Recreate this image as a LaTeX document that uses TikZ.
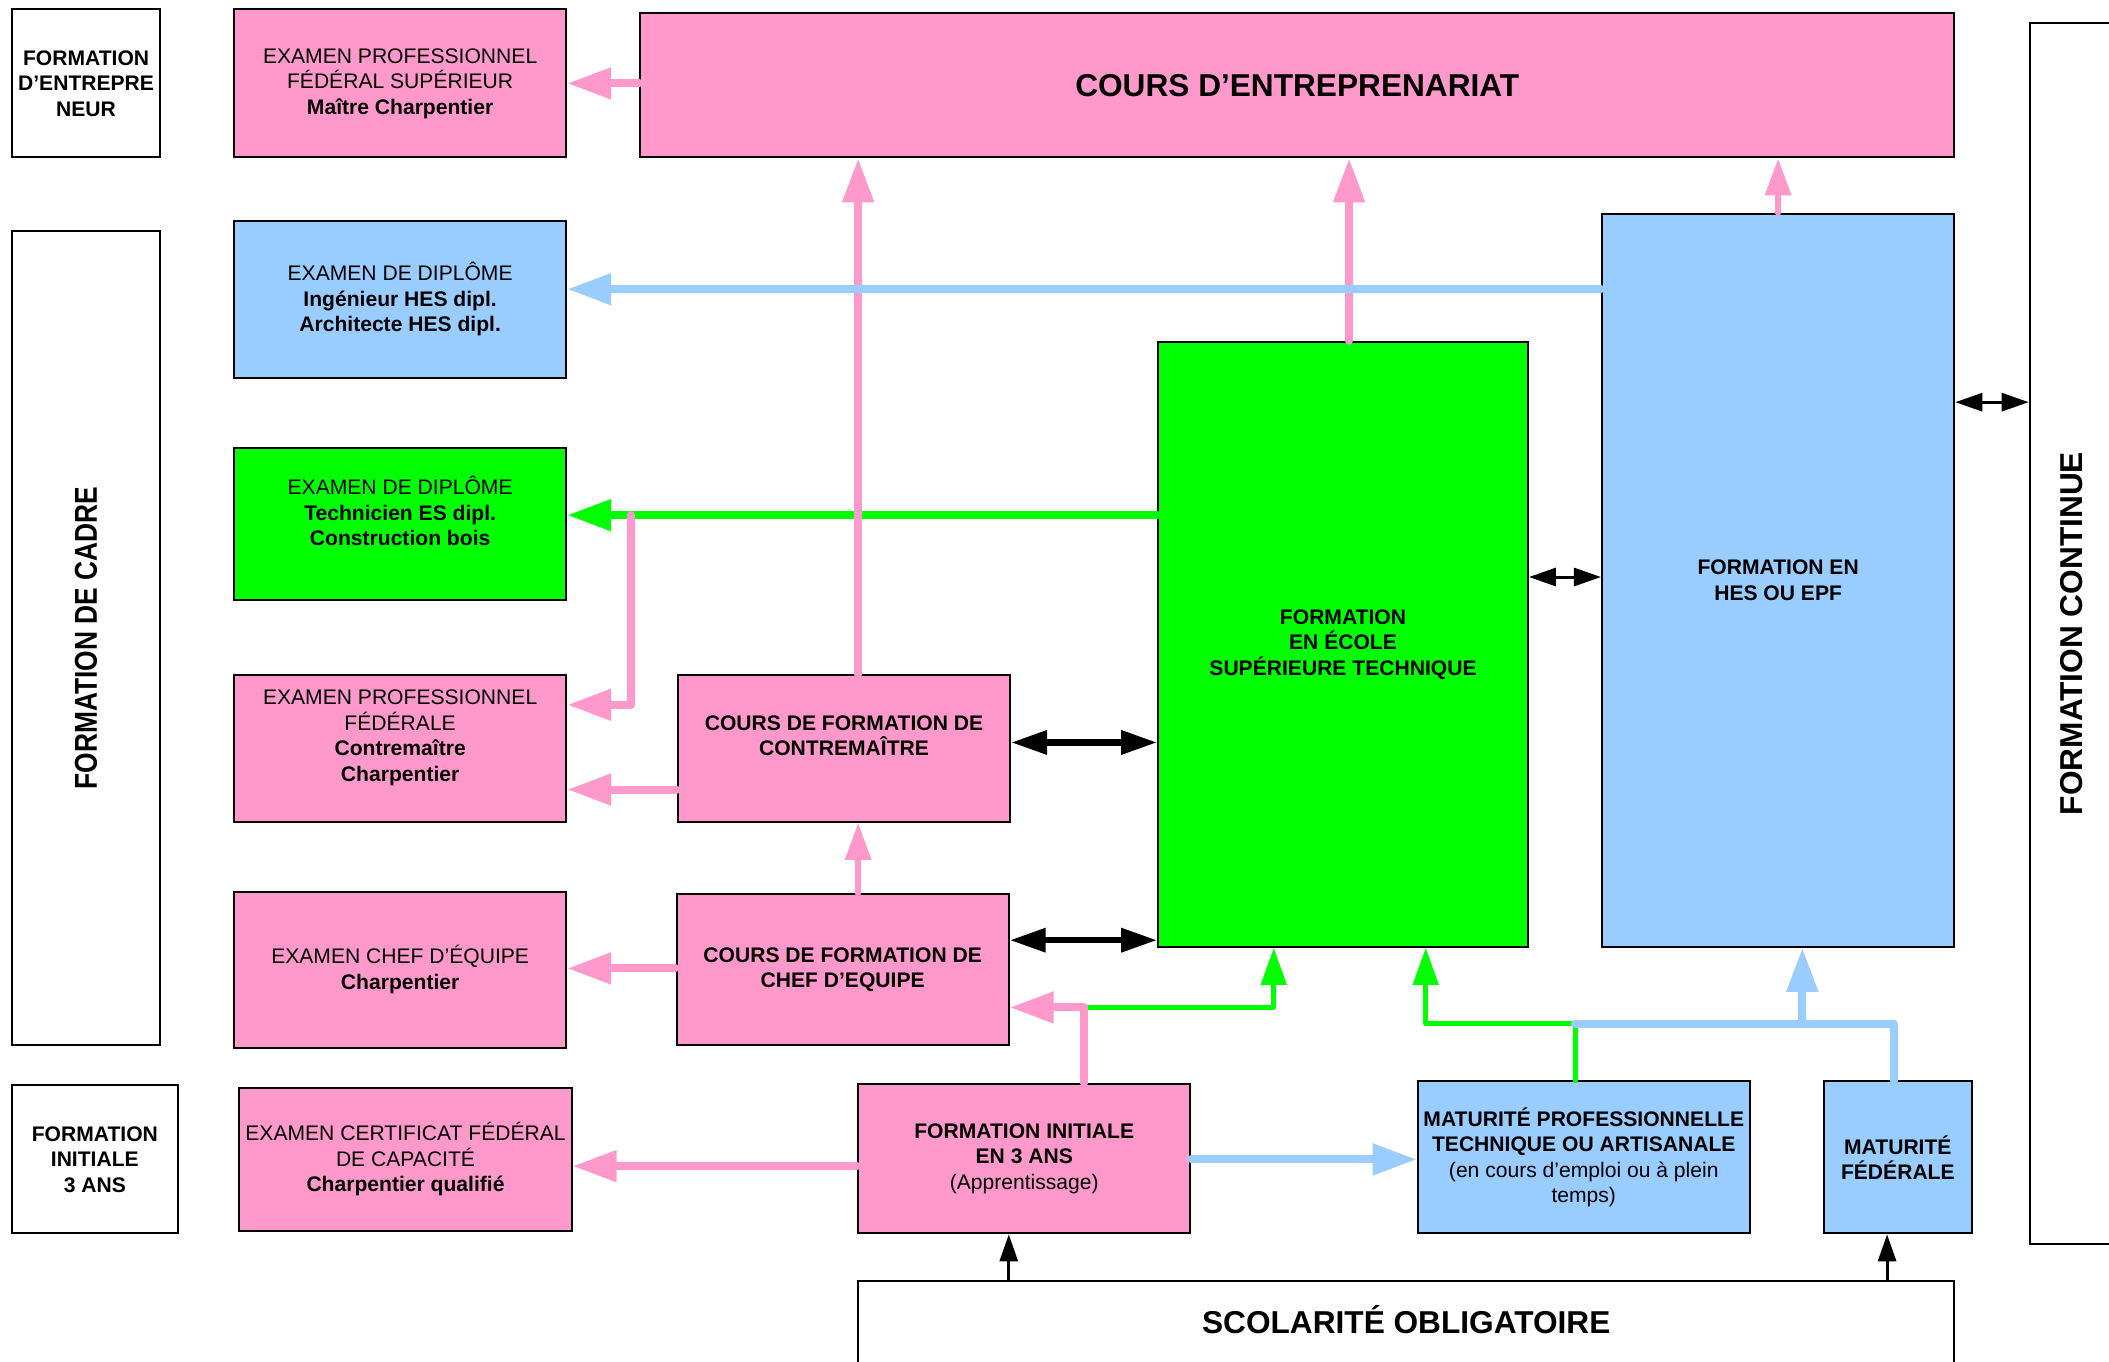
\documentclass[tikz,border=0pt]{standalone}
\usepackage{fontspec}
\setmainfont{Liberation Sans}
\usepackage{graphicx}
\usetikzlibrary{arrows.meta}

\definecolor{pinkfill}{HTML}{FF99CC}
\definecolor{bluefill}{HTML}{99CCFF}
\definecolor{greenfill}{HTML}{00FF00}

\begin{document}
\begin{tikzpicture}[
    x=0.0269cm, y=-0.0269cm,
    box size/.style 2 args={minimum width=#1*0.0269cm, minimum height=#2*0.0269cm},
    box style/.style={draw, line width=1.1pt, inner sep=0pt, align=center, font=\fontsize{12}{14.5}\selectfont},
    bold style/.style={font=\fontsize{12}{14.5}\selectfont\bfseries},
    big style/.style={font=\fontsize{18}{21}\selectfont\bfseries},
    white box/.style={box style, fill=white},
    pink box/.style={box style, fill=pinkfill},
    blue box/.style={box style, fill=bluefill},
    green box/.style={box style, fill=greenfill},
    pink path/.style={line width=0.16cm, pinkfill, line cap=round, line join=round, -{Triangle[length=0.88cm, width=0.6cm]}},
    pink thin path/.style={line width=0.12cm, pinkfill, line cap=round, -{Triangle[length=0.74cm, width=0.5cm]}},
    blue path/.style={line width=0.16cm, bluefill, line cap=round, line join=round, -{Triangle[length=0.88cm, width=0.6cm]}},
    blue line/.style={line width=0.16cm, bluefill, line cap=round, line join=round},
    green path/.style={line width=0.16cm, greenfill, line cap=round, -{Triangle[length=0.88cm, width=0.6cm]}},
    green thin path/.style={line width=0.1cm, greenfill, line cap=round, line join=round, -{Triangle[length=0.74cm, width=0.5cm]}},
    both path/.style={line width=0.13cm, arrows={Triangle[length=0.72cm, width=0.46cm]-Triangle[length=0.72cm, width=0.46cm]}},
    thin both path/.style={line width=0.06cm, arrows={Triangle[length=0.54cm, width=0.36cm]-Triangle[length=0.54cm, width=0.36cm]}},
    thin path/.style={line width=0.06cm, -{Triangle[length=0.54cm, width=0.36cm]}}
]

\useasboundingbox (0,0) rectangle (1568,1012);

% Labels on the left and right
\node[white box, bold style, box size={110}{110}] (entLbl) at (64,62) {FORMATION\\D’ENTREPRE\\NEUR};
\node[white box, rotate=90, box size={605}{110}, font=\fontsize{15}{18}\selectfont\bfseries] (cadreLbl) at (64,474.5) {\scalebox{1}[1.2]{FORMATION DE CADRE}};
\node[white box, bold style, box size={123}{110}] (initLbl) at (70.5,862) {FORMATION\\INITIALE\\3 ANS};
\node[white box, rotate=90, box size={908}{62}, big style] (cont) at (1540,471) {FORMATION CONTINUE};

% Exams
\node[pink box, box size={247}{110}] (examSup) at (297.5,62) {EXAMEN PROFESSIONNEL\\FÉDÉRAL SUPÉRIEUR\\\textbf{Maître Charpentier}};
\node[blue box, box size={247}{117}] (examHES) at (297.5,222.5) {EXAMEN DE DIPLÔME\\\textbf{Ingénieur HES dipl.}\\\textbf{Architecte HES dipl.}};
\node[green box, box size={247}{113}] (examES) at (297.5,389.5) {EXAMEN DE DIPLÔME\\\textbf{Technicien ES dipl.}\\\textbf{Construction bois}\\[-4pt]\strut};
\node[pink box, box size={247}{109}] (examCM) at (297.5,556.5) {EXAMEN PROFESSIONNEL\\FÉDÉRALE\\\textbf{Contremaître}\\\textbf{Charpentier}\\[-4pt]\strut};
\node[pink box, box size={247}{116}] (examCE) at (297.5,721) {EXAMEN CHEF D’ÉQUIPE\\\textbf{Charpentier}};
\node[pink box, box size={247}{106}] (examCFC) at (301.5,862) {EXAMEN CERTIFICAT FÉDÉRAL\\DE CAPACITÉ\\\textbf{Charpentier qualifié}};

% Courses and schools
\node[pink box, big style, box size={977}{107}] (entre) at (964.5,63.5) {COURS D’ENTREPRENARIAT};
\node[pink box, bold style, box size={247}{109}] (coursCM) at (627.5,556.5) {COURS DE FORMATION DE\\CONTREMAÎTRE\\[-4pt]\strut};
\node[pink box, bold style, box size={247}{112}] (coursCE) at (626.5,721) {COURS DE FORMATION DE\\CHEF D’EQUIPE};
\node[pink box, box size={247}{111}] (formInit) at (761.5,861.5) {\textbf{FORMATION INITIALE}\\\textbf{EN 3 ANS}\\(Apprentissage)};
\node[green box, bold style, box size={275}{450}] (EST) at (998.5,479) {FORMATION\\EN ÉCOLE\\SUPÉRIEURE TECHNIQUE};
\node[blue box, bold style, box size={262}{545}] (HES) at (1322,431.5) {FORMATION EN\\HES OU EPF};
\node[blue box, box size={247}{113}] (MP) at (1177.5,860.5) {\textbf{MATURITÉ PROFESSIONNELLE}\\\textbf{TECHNIQUE OU ARTISANALE}\\(en cours d’emploi ou à plein\\temps)};
\node[blue box, bold style, box size={110}{113}] (MF) at (1411,860.5) {MATURITÉ\\FÉDÉRALE};
\node[white box, big style, box size={815}{62}, anchor=north] (scol) at (1045.5,952) {\raisebox{4.5pt}{SCOLARITÉ OBLIGATOIRE}};

% Green connectors first
\draw[green path] (EST.west |- 0,383) -- (examES.east |- 0,383);
\coordinate (initSplit) at (806,749);
\draw[green thin path] (initSplit) -| (947,0 |- EST.south);
\draw[green thin path] (1171,0 |- MP.north) |- (1060,761) -- (1060,0 |- EST.south);

% Pink connectors
\draw[pink path] (entre.west |- examSup) -- (examSup.east);
\draw[pink path] (638,0 |- coursCM.north) -- (638,0 |- entre.south);
\draw[pink path] (1003,0 |- EST.north) -- (1003,0 |- entre.south);
\draw[pink thin path] (HES.north) -- (HES.north |- entre.south);
\coordinate (branch) at (469,383);
\draw[pink path] (branch) |- (examCM.east |- 0,524);
\draw[pink path] (coursCM.west |- 0,587) -- (examCM.east |- 0,587);
\draw[pink thin path] (638,0 |- coursCE.north) -- (638,0 |- coursCM.south);
\draw[pink path] (coursCE.west |- 0,720) -- (examCE.east |- 0,720);
\draw[pink path] (806,0 |- formInit.north) |- (coursCE.east |- 0,749);
\draw[pink path] (formInit.west |- 0,867) -- (examCFC.east |- 0,867);

% Blue connectors
\draw[blue path] (HES.west |- 0,215) -- (examHES.east |- 0,215);
\draw[blue path] (formInit.east |- 0,862) -- (MP.west |- 0,862);
\draw[blue line] (1408,0 |- MF.north) |- (1171,761);
\draw[blue path] (1340,761) -- (1340,0 |- HES.south);

% Black connectors
\draw[both path] (coursCM.east |- 0,552) -- (EST.west |- 0,552);
\draw[both path] (coursCE.east |- 0,699) -- (EST.west |- 0,699);
\draw[thin both path] (EST.east |- 0,429) -- (HES.west |- 0,429);
\draw[thin both path] (HES.east |- 0,299) -- (cont.north |- 0,299);
\draw[thin path] (750,0 |- scol.north) -- (750,0 |- formInit.south);
\draw[thin path] (1403,0 |- scol.north) -- (1403,0 |- MF.south);
\end{tikzpicture}
\end{document}
